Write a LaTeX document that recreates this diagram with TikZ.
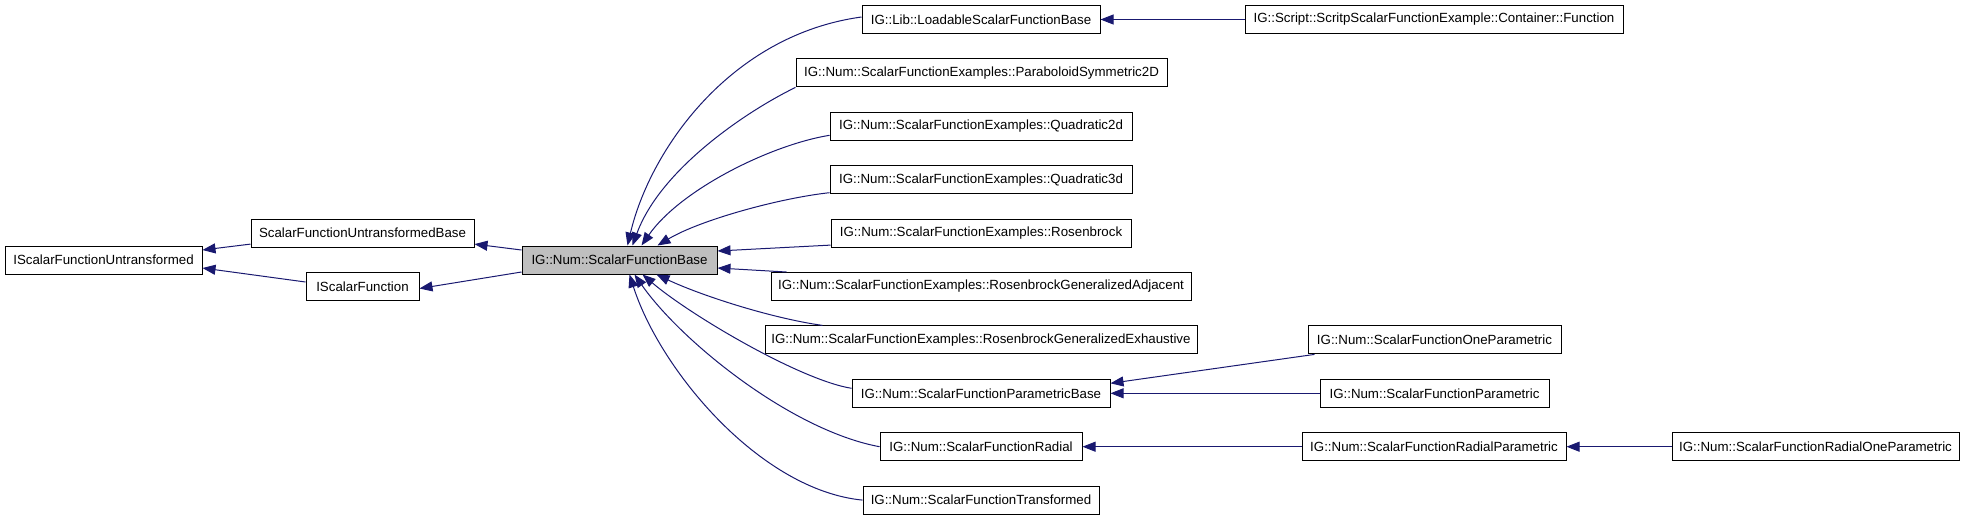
\documentclass[tikz,border=0pt]{standalone}
\usepackage{fontspec}
\setmainfont{Liberation Sans}
\usetikzlibrary{arrows.meta,calc}
\definecolor{edgec}{HTML}{191970}
\definecolor{basefill}{HTML}{BFBFBF}
\tikzset{
  cls/.style={draw=black, line width=1pt, fill=white, minimum height=28pt, inner sep=0pt,
    font=\fontsize{13.3}{16}\selectfont, text=black},
  inh/.style={draw=edgec, line width=1pt, -{Triangle[length=13pt,width=10pt,fill=edgec]}},
}
\begin{document}
\begin{tikzpicture}[x=1pt,y=-1pt]
\useasboundingbox (0,0) rectangle (1965,520);
% left part
\node[cls, minimum width=197pt] (iuntr) at (103.5,260) {IScalarFunctionUntransformed};
\node[cls, minimum width=223pt] (sfub) at (362.5,233.1) {ScalarFunctionUntransformedBase};
\node[cls, minimum width=113pt] (isf) at (362.5,286.5) {IScalarFunction};
\node[cls, minimum width=195pt, fill=basefill] (base) at (619.5,260) {IG::Num::ScalarFunctionBase};
% middle column
\node[cls, minimum width=238pt] (load) at (981,19.5) {IG::Lib::LoadableScalarFunctionBase};
\node[cls, minimum width=371pt] (para) at (981.5,72.9) {IG::Num::ScalarFunctionExamples::ParaboloidSymmetric2D};
\node[cls, minimum width=302pt] (q2d) at (981,126.3) {IG::Num::ScalarFunctionExamples::Quadratic2d};
\node[cls, minimum width=302pt] (q3d) at (981,179.7) {IG::Num::ScalarFunctionExamples::Quadratic3d};
\node[cls, minimum width=300pt] (rosen) at (981,233.1) {IG::Num::ScalarFunctionExamples::Rosenbrock};
\node[cls, minimum width=420pt] (rga) at (981,286.5) {IG::Num::ScalarFunctionExamples::RosenbrockGeneralizedAdjacent};
\node[cls, minimum width=432pt] (rge) at (981,339.9) {IG::Num::ScalarFunctionExamples::RosenbrockGeneralizedExhaustive};
\node[cls, minimum width=258pt] (pbase) at (981,393.3) {IG::Num::ScalarFunctionParametricBase};
\node[cls, minimum width=202pt] (radial) at (981,446.7) {IG::Num::ScalarFunctionRadial};
\node[cls, minimum width=236pt] (trans) at (981,500.1) {IG::Num::ScalarFunctionTransformed};
% right columns
\node[cls, minimum width=378pt] (script) at (1434,19.5) {IG::Script::ScritpScalarFunctionExample::Container::Function};
\node[cls, minimum width=253pt] (onep) at (1434.5,339.9) {IG::Num::ScalarFunctionOneParametric};
\node[cls, minimum width=229pt] (parm) at (1434.5,393.3) {IG::Num::ScalarFunctionParametric};
\node[cls, minimum width=264pt] (radp) at (1434,446.7) {IG::Num::ScalarFunctionRadialParametric};
\node[cls, minimum width=287pt] (radop) at (1815.5,446.7) {IG::Num::ScalarFunctionRadialOneParametric};
% left edges
\draw[inh] ($(sfub.west)+(0,11)$) -- ($(iuntr.east)+(0,-10)$);
\draw[inh] ($(isf.west)+(0,-4.5)$) -- ($(iuntr.east)+(0,8)$);
\draw[inh] ($(base.west)+(0,-10)$) -- ($(sfub.east)+(0,11)$);
\draw[inh] ($(base.west)+(0,12)$) -- ($(isf.east)+(0,2)$);
% middle edges into base
\draw[inh] ($(load.west)+(0,-2.5)$) .. controls (730,35) and (650,150) .. ($(base.north west)+(106,0)$);
\draw[inh] (para.south west) .. controls (745,112) and (660,170) .. ($(base.north west)+(111,0)$);
\draw[inh] ($(q2d.west)+(0,9)$) .. controls (770,145) and (680,190) .. ($(base.north west)+(120,0)$);
\draw[inh] ($(q3d.west)+(0,13)$) .. controls (780,198) and (700,220) .. ($(base.north west)+(136,0)$);
\draw[inh] ($(rosen.west)+(0,12)$) -- ($(base.east)+(0,-9)$);
\draw[inh] ($(rga.north west)+(16,0)$) -- ($(base.east)+(0,8)$);
\draw[inh] ($(rge.north west)+(58,0)$) .. controls (770,318) and (700,295) .. ($(base.south west)+(135,0)$);
\draw[inh] ($(pbase.west)+(0,-5)$) .. controls (800,380) and (690,315) .. ($(base.south west)+(121,0)$);
\draw[inh] (radial.west) .. controls (790,430) and (680,340) .. ($(base.south west)+(113,0)$);
\draw[inh] (trans.west) .. controls (760,490) and (660,370) .. ($(base.south west)+(108,0)$);
% right edges
\draw[inh] (script.west) -- (load.east);
\draw[inh] ($(onep.south west)+(7,0)$) -- ($(pbase.east)+(0,-10)$);
\draw[inh] (parm.west) -- (pbase.east);
\draw[inh] (radp.west) -- (radial.east);
\draw[inh] (radop.west) -- (radp.east);
\end{tikzpicture}
\end{document}
